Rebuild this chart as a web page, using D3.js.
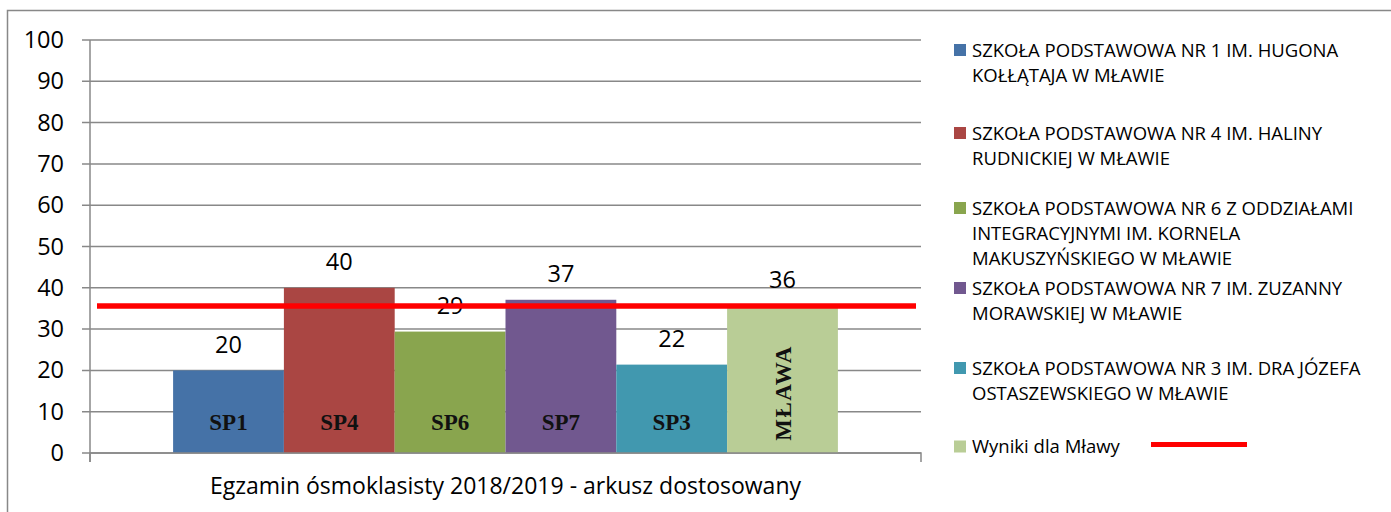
<!DOCTYPE html>
<html>
<head>
<meta charset="utf-8">
<script src="https://cdn.jsdelivr.net/npm/d3@7"></script>
<style>
  body { margin: 0; background: #fff; }
  svg { display: block; font-family: "Open Sans", sans-serif; }
</style>
</head>
<body>
<svg width="1391" height="512"></svg>
<script>
// data
const codes = ["SP1", "SP4", "SP6", "SP7", "SP3", "MŁAWA"];
const values = [20, 40, 29.4, 37.1, 21.4, 35.6];
const valueLabels = ["20", "40", "29", "37", "22", "36"];
const colors = ["#4572a7", "#aa4643", "#89a54e", "#71588f", "#4198af", "#b9cd96"];
const legendNames = [
  ["SZKOŁA PODSTAWOWA NR 1 IM. HUGONA", "KOŁŁĄTAJA W MŁAWIE"],
  ["SZKOŁA PODSTAWOWA NR 4 IM. HALINY", "RUDNICKIEJ W MŁAWIE"],
  ["SZKOŁA PODSTAWOWA NR 6 Z ODDZIAŁAMI", "INTEGRACYJNYMI IM. KORNELA", "MAKUSZYŃSKIEGO W MŁAWIE"],
  ["SZKOŁA PODSTAWOWA NR 7 IM. ZUZANNY", "MORAWSKIEJ W MŁAWIE"],
  ["SZKOŁA PODSTAWOWA NR 3 IM. DRA JÓZEFA", "OSTASZEWSKIEGO W MŁAWIE"],
  ["Wyniki dla Mławy"]
];
const category = "Egzamin ósmoklasisty 2018/2019 - arkusz dostosowany";
const yTicks = [0, 10, 20, 30, 40, 50, 60, 70, 80, 90, 100];
const average = 35.6;

const svg = d3.select("svg");
const grey = "#888888";

// outer chart frame (runs off the right and bottom of the picture)
svg.append("path")
    .attr("d", "M7.5,520 V10.5 H1400")
    .attr("fill", "none")
    .attr("stroke", grey)
    .attr("stroke-width", 1.5);

const plot = {left: 90, right: 921, top: 40, bottom: 453};

const y = d3.scaleLinear().domain([0, 100]).range([plot.bottom, plot.top]);
const x = d3.scaleBand().domain([category]).range([plot.left, plot.right]);
// bars within the single category, gap width 150%
const inner = d3.scaleBand().domain(codes)
    .range([x(category), x(category) + x.bandwidth()])
    .paddingOuter(0.75).paddingInner(0);

const g = svg.append("g");

// gridlines
g.append("g")
    .selectAll("line")
    .data(yTicks)
    .join("line")
    .attr("x1", plot.left - 8)
    .attr("x2", plot.right)
    .attr("y1", d => y(d))
    .attr("y2", d => y(d))
    .attr("stroke", grey)
    .attr("stroke-width", 1.5);

// y axis
const yAxis = g.append("g")
    .attr("transform", "translate(" + plot.left + ",0)")
    .call(d3.axisLeft(y).tickValues(yTicks).tickSize(0).tickPadding(26));
yAxis.select(".domain").remove();
yAxis.selectAll("text")
    .attr("font-family", "Open Sans")
    .attr("font-size", 23.5)
    .attr("fill", "#000");
g.append("line")
    .attr("x1", plot.left).attr("x2", plot.left)
    .attr("y1", plot.top).attr("y2", plot.bottom + 9)
    .attr("stroke", grey).attr("stroke-width", 1.5);

// bars
g.append("g")
    .selectAll("rect")
    .data(values)
    .join("rect")
    .attr("x", (d, i) => inner(codes[i]))
    .attr("width", inner.bandwidth())
    .attr("y", d => y(d))
    .attr("height", d => y(0) - y(d))
    .attr("fill", (d, i) => colors[i]);

// x axis
const xAxis = g.append("g")
    .attr("transform", "translate(0," + plot.bottom + ")")
    .call(d3.axisBottom(x).tickSize(0).tickPadding(25));
xAxis.select(".domain").remove();
xAxis.selectAll("text")
    .attr("font-family", "Open Sans")
    .attr("font-size", 23)
    .attr("fill", "#000");
g.append("path")
    .attr("d", "M" + plot.left + "," + (plot.bottom + 9) + "V" + plot.bottom + "H" + plot.right + "V" + (plot.bottom + 9))
    .attr("fill", "none")
    .attr("stroke", grey).attr("stroke-width", 1.5);

// value labels above bars
g.append("g")
    .selectAll("text")
    .data(values)
    .join("text")
    .attr("x", (d, i) => inner(codes[i]) + inner.bandwidth() / 2)
    .attr("y", d => y(d) - 17.5)
    .attr("text-anchor", "middle")
    .attr("font-size", 23.5)
    .attr("fill", "#000")
    .text((d, i) => valueLabels[i]);

// codes inside bars
g.append("g")
    .selectAll("text")
    .data(codes)
    .join("text")
    .attr("transform", (d, i) => {
      const cx = inner(d) + inner.bandwidth() / 2;
      return i === codes.length - 1
        ? "translate(" + (cx + 8) + "," + 393 + ") rotate(-90)"
        : "translate(" + cx + "," + 429.5 + ")";
    })
    .attr("text-anchor", "middle")
    .attr("font-family", "Liberation Serif")
    .attr("font-weight", "bold")
    .attr("font-size", 23)
    .attr("letter-spacing", (d, i) => i === codes.length - 1 ? 1.5 : 0)
    .attr("fill", "#111")
    .text(d => d);

// average line for Mława
g.append("line")
    .attr("x1", plot.left + 7)
    .attr("x2", plot.right - 5)
    .attr("y1", y(average))
    .attr("y2", y(average))
    .attr("stroke", "#ff0000")
    .attr("stroke-width", 5.5);

// legend
const legendTop = [50, 133, 208, 288, 368, 446.5];
const legend = svg.append("g")
    .selectAll("g")
    .data(legendNames)
    .join("g")
    .attr("transform", (d, i) => "translate(954," + legendTop[i] + ")");

legend.append("rect")
    .attr("x", 0).attr("y", -6)
    .attr("width", 12).attr("height", 12)
    .attr("fill", (d, i) => colors[i]);

legend.append("text")
    .attr("font-size", 18.5)
    .attr("fill", "#000")
    .selectAll("tspan")
    .data(d => d)
    .join("tspan")
    .attr("x", 18)
    .attr("y", (d, j) => j * 25 + 6.5)
    .text(d => d);

svg.append("line")
    .attr("x1", 1151).attr("x2", 1247)
    .attr("y1", 444.5).attr("y2", 444.5)
    .attr("stroke", "#ff0000")
    .attr("stroke-width", 5);
</script>
</body>
</html>
